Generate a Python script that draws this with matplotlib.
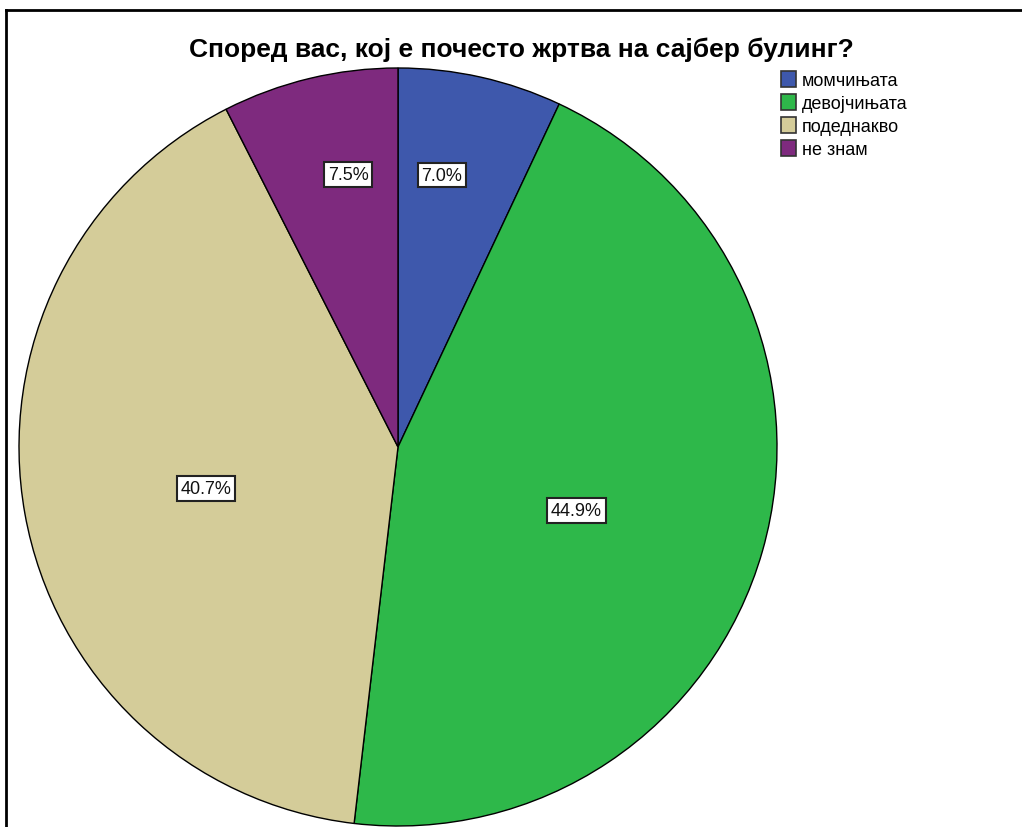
import numpy as np
import matplotlib
matplotlib.use('Agg')
import matplotlib.pyplot as plt
from matplotlib.lines import Line2D
from matplotlib.patches import Patch

plt.rcParams['font.family'] = ['Liberation Sans', 'DejaVu Sans']

# Data
categories = ['момчињата', 'девојчињата', 'подеднакво', 'не знам']
percents = [7.0, 44.9, 40.7, 7.5]
colors = ['#3E58AC', '#2EB84A', '#D4CC99', '#7E2A7E']
title = 'Според вас, кој е почесто жртва на сајбер булинг?'

W, H = 1022, 828
fig = plt.figure(figsize=(W / 100, H / 100), dpi=100)
ax = fig.add_axes([0, 0, 1, 1])

# pie geometry in pixel units
cx, cy, r = 398, H - 448, 379
wedges, _ = ax.pie(percents, colors=colors, startangle=90, counterclock=False,
                   center=(cx, cy), radius=r, frame=True,
                   wedgeprops=dict(edgecolor='black', linewidth=1.0))
ax.set_xlim(0, W)
ax.set_ylim(0, H)
ax.axis('off')

# percentage labels: distance as fraction of radius, small angular nudge (deg)
label_dist = [0.727, 0.50, 0.518, 0.731]
label_nudge = [3.4, -3.8, 2.0, -3.1]
for w, p, d, nd in zip(wedges, percents, label_dist, label_nudge):
    ang = np.deg2rad((w.theta1 + w.theta2) / 2 + nd)
    x = cx + d * r * np.cos(ang)
    y = cy + d * r * np.sin(ang)
    ax.text(x, y, f'{p:.1f}%', ha='center', va='center', fontsize=13,
            color='#111111',
            bbox=dict(boxstyle='square,pad=0.22', facecolor='white',
                      edgecolor='#222222', linewidth=1.5))

# title
fig.text(521 / W, 1 - 50 / H, title, ha='center', va='center',
         fontsize=19, fontweight='bold')

# legend
handles = [Patch(facecolor=c, edgecolor='#333333', linewidth=1.2) for c in colors]
leg = ax.legend(handles, categories, loc='upper left',
                bbox_to_anchor=(781 / W, 1 - 72 / H), frameon=False,
                fontsize=13, handlelength=0.85, handleheight=0.95,
                handletextpad=0.3, labelspacing=0.28, borderpad=0,
                borderaxespad=0)

# outer frame (left and top only visible)
fig.add_artist(Line2D([6 / W, 6 / W], [0, 1 - 11 / H], color='black', linewidth=2,
                      transform=fig.transFigure))
fig.add_artist(Line2D([6 / W, 1], [1 - 11 / H, 1 - 11 / H], color='black', linewidth=2,
                      transform=fig.transFigure))

fig.savefig('out.png', dpi=100, facecolor='white')
